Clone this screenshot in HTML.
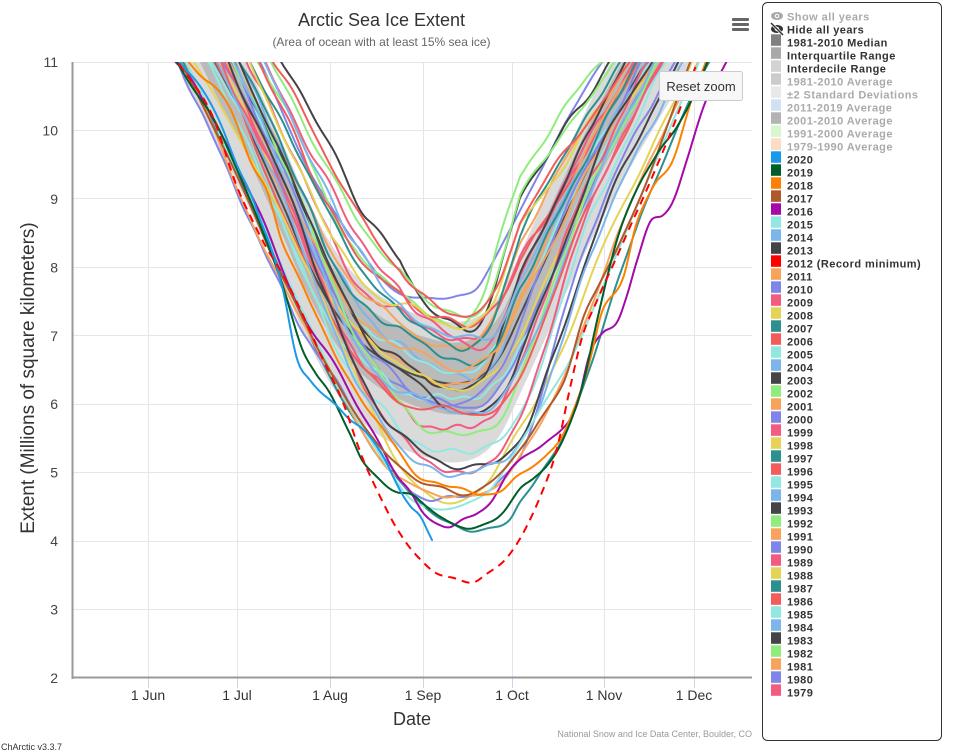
<!DOCTYPE html>
<html><head><meta charset="utf-8"><title>Arctic Sea Ice Extent</title>
<style>
html,body{margin:0;padding:0;background:#fff;}
svg{display:block;font-family:"Liberation Sans",Arial,sans-serif;}
.lg{font-size:11px;font-weight:bold;letter-spacing:0.45px;fill:#333;}
.lg.off{fill:#aaa;}
</style></head><body>
<svg id="c" width="953" height="753" viewBox="0 0 953 753" xmlns="http://www.w3.org/2000/svg">
<defs><clipPath id="pc"><rect x="73" y="62" width="679" height="616"/></clipPath></defs>
<rect width="953" height="753" fill="#fff"/>
<!-- grid -->
<g stroke="#e6e6e6" stroke-width="1" fill="none">
<line x1="73" x2="752" y1="62.5" y2="62.5"/>
<line x1="73" x2="752" y1="130.5" y2="130.5"/>
<line x1="73" x2="752" y1="198.5" y2="198.5"/>
<line x1="73" x2="752" y1="267.5" y2="267.5"/>
<line x1="73" x2="752" y1="335.5" y2="335.5"/>
<line x1="73" x2="752" y1="404.5" y2="404.5"/>
<line x1="73" x2="752" y1="472.5" y2="472.5"/>
<line x1="73" x2="752" y1="541.5" y2="541.5"/>
<line x1="73" x2="752" y1="609.5" y2="609.5"/>
<line x1="148.5" x2="148.5" y1="62" y2="678"/>
<line x1="237.5" x2="237.5" y1="62" y2="678"/>
<line x1="330.5" x2="330.5" y1="62" y2="678"/>
<line x1="423.5" x2="423.5" y1="62" y2="678"/>
<line x1="512.5" x2="512.5" y1="62" y2="678"/>
<line x1="604.5" x2="604.5" y1="62" y2="678"/>
<line x1="694.5" x2="694.5" y1="62" y2="678"/>
</g>
<g stroke="#ccd6eb" stroke-width="1">
<line x1="148.5" x2="148.5" y1="678" y2="688"/>
<line x1="237.5" x2="237.5" y1="678" y2="688"/>
<line x1="330.5" x2="330.5" y1="678" y2="688"/>
<line x1="423.5" x2="423.5" y1="678" y2="688"/>
<line x1="512.5" x2="512.5" y1="678" y2="688"/>
<line x1="604.5" x2="604.5" y1="678" y2="688"/>
<line x1="694.5" x2="694.5" y1="678" y2="688"/>
</g>
<g id="plot" clip-path="url(#pc)"></g>
<!-- axes -->
<line x1="72.5" x2="72.5" y1="62" y2="679" stroke="#999" stroke-width="2"/>
<line x1="72" x2="752" y1="677.5" y2="677.5" stroke="#999" stroke-width="2"/>
<!-- y labels -->
<g font-size="14" fill="#444" text-anchor="end">
<text x="58" y="67">11</text>
<text x="58" y="135.5">10</text>
<text x="58" y="204">9</text>
<text x="58" y="272.5">8</text>
<text x="58" y="341">7</text>
<text x="58" y="409">6</text>
<text x="58" y="477.5">5</text>
<text x="58" y="546">4</text>
<text x="58" y="614.5">3</text>
<text x="58" y="683">2</text>
</g>
<g font-size="14" fill="#333" text-anchor="middle">
<text x="148" y="700">1 Jun</text>
<text x="237" y="700">1 Jul</text>
<text x="330" y="700">1 Aug</text>
<text x="423" y="700">1 Sep</text>
<text x="512" y="700">1 Oct</text>
<text x="604" y="700">1 Nov</text>
<text x="694" y="700">1 Dec</text>
</g>
<text x="412" y="725" font-size="18" fill="#333" text-anchor="middle">Date</text>
<text transform="translate(34,378) rotate(-90)" x="0" y="0" font-size="19" fill="#333" text-anchor="middle">Extent (Millions of square kilometers)</text>
<text x="381.5" y="26" font-size="18" fill="#333" text-anchor="middle">Arctic Sea Ice Extent</text>
<text x="381.5" y="46" font-size="12" fill="#666" text-anchor="middle">(Area of ocean with at least 15% sea ice)</text>
<text x="752" y="737" font-size="9" fill="#999" text-anchor="end">National Snow and Ice Data Center, Boulder, CO</text>
<text x="1" y="750" font-size="9" fill="#333">ChArctic v3.3.7</text>
<!-- hamburger -->
<g fill="#666">
<rect x="732" y="18" width="17" height="3" rx="1"/>
<rect x="732" y="23" width="17" height="3" rx="1"/>
<rect x="732" y="28" width="17" height="3" rx="1"/>
</g>
<!-- reset zoom -->
<rect x="659.5" y="71.5" width="83" height="29" rx="2" fill="#f7f7f7" stroke="#cccccc" stroke-width="1"/>
<text x="701" y="91" font-size="13" fill="#333" text-anchor="middle">Reset zoom</text>
<!-- legend -->
<rect x="762.5" y="2.5" width="179" height="738" rx="5" fill="#fff" stroke="#333" stroke-width="1"/>
<g>
<ellipse cx="777" cy="16" rx="6" ry="4" fill="#aaa"/><circle cx="777" cy="16" r="2.2" fill="#fff"/><circle cx="777" cy="16" r="1.2" fill="#aaa"/>
<text class="lg off" x="787" y="20.5">Show all years</text>
<ellipse cx="777" cy="29" rx="6" ry="4" fill="#333"/><circle cx="777" cy="29" r="2.2" fill="#fff"/><circle cx="777" cy="29" r="1.2" fill="#333"/>
<line x1="771" y1="23" x2="783" y2="35" stroke="#fff" stroke-width="3"/><line x1="771" y1="23" x2="783" y2="35" stroke="#333" stroke-width="1.5"/>
<text class="lg" x="787" y="33.5">Hide all years</text>
</g>
<g id="legend"></g>
</svg>
<script>
(function(){
var NS="http://www.w3.org/2000/svg";
var plot=document.getElementById('plot');
var leg=document.getElementById('legend');
function Y(v){return 678-(v-2)*68.444;}
function mk(P){
  var n=P.length,m=[];
  for(var i=0;i<n;i++){
    if(i==0)m.push((P[1][1]-P[0][1])/(P[1][0]-P[0][0]));
    else if(i==n-1)m.push((P[n-1][1]-P[n-2][1])/(P[n-1][0]-P[n-2][0]));
    else m.push((P[i+1][1]-P[i-1][1])/(P[i+1][0]-P[i-1][0]));
  }
  return function(x){
    if(x<=P[0][0])return P[0][1]+m[0]*(x-P[0][0]);
    if(x>=P[n-1][0])return P[n-1][1]+m[n-1]*(x-P[n-1][0]);
    var i=0;while(P[i+1][0]<x)i++;
    var x0=P[i][0],x1=P[i+1][0],h=x1-x0,t=(x-x0)/h,y0=P[i][1],y1=P[i+1][1],t2=t*t,t3=t2*t;
    return (2*t3-3*t2+1)*y0+(t3-2*t2+t)*h*m[i]+(-2*t3+3*t2)*y1+(t3-t2)*h*m[i+1];
  };
}
function rng(s){return function(){s|=0;s=s+0x6D2B79F5|0;var t=Math.imul(s^s>>>15,1|s);t=t+Math.imul(t^t>>>7,61|t)^t;return((t^t>>>14)>>>0)/4294967296;};}
function wig(seed,amp){
  var r=rng(seed*7919+13),a=[],f=[],p=[],base=[1,0.6,0.4,0.3],fr=[0.025,0.06,0.11,0.2];
  for(var k=0;k<4;k++){a.push(amp*(0.5+r())*base[k]);f.push(fr[k]*(0.8+0.4*r()));p.push(r()*6.283);}
  return function(x){var s=0;for(var k=0;k<4;k++)s+=a[k]*Math.sin(x*f[k]+p[k]);return s;};
}
var TP=[[100,14.4],[150,12.9],[180,12.05],[215,11.0],[240,10.3],[285,8.84],[305,8.15],[335,7.35],[365,6.85],[400,6.52],[430,6.36],[455,6.3],[480,6.4],[500,6.7],[520,7.3],[545,8.1],[570,8.9],[600,9.8],[630,10.6],[650,11.1],[700,12.3],[780,14]];
var T=mk(TP);
function add(tag,attrs){var e=document.createElementNS(NS,tag);for(var k in attrs)e.setAttribute(k,attrs[k]);plot.appendChild(e);return e;}
function pathOf(fn,x0,x1){var d='',first=true;for(var x=x0;x<=x1;x+=2){var v=fn(x);var y=Y(v);if(y<-200)y=-200;d+=(first?'M':'L')+x+','+y.toFixed(1);first=false;}return d;}
function band(up,lo,fill){
  var d='';for(var x=90;x<=760;x+=2){d+=(x==90?'M':'L')+x+','+Math.max(-200,Y(T(x)+up)).toFixed(1);}
  for(var x2=760;x2>=90;x2-=2){d+='L'+x2+','+Math.max(-200,Y(T(x2)+lo)).toFixed(1);}
  d+='Z';add('path',{d:d,fill:fill,stroke:'none'});
}
band(0.9,-1.15,'#dadada');
band(0.6,-0.45,'#bababa');

function genFn(dv,dxL,dxR,seed){
  var w0=wig(seed,0.07);
  return function(x){
    var dx;if(x<400)dx=dxL;else if(x>520)dx=dxR;else dx=dxL+(dxR-dxL)*(x-400)/120;
    var w=1/(1+Math.pow((x-455)/100,4));
    return T(x-dx)+dv*w+w0(x);
  };
}
function handFn(P,seed,amp){var f=mk(P),w0=wig(seed,amp);return function(x){return f(x)+w0(x);};}

var lines=[];
var G=[
[1979,'#f15c80',0.6,30,-10],[1981,'#f7a35c',0.6,20,-15],[1982,'#90ed7d',0.9,40,-38],[1983,'#434348',0.9,62,-28],
[1984,'#7cb5ec',0.1,25,-5],[1985,'#91e8e1',0.2,15,0],[1986,'#f45b5b',0.8,40,-5],[1987,'#2b908f',0.6,35,-20],
[1988,'#e4d354',0.8,30,-15],[1989,'#f15c80',0.6,50,-5],[1990,'#8085e9',-0.3,10,10],[1991,'#f7a35c',0.0,5,-10],
[1992,'#90ed7d',0.9,55,-30],[1993,'#434348',-0.1,20,-20],[1994,'#7cb5ec',0.6,45,0],[1995,'#91e8e1',-0.3,-5,5],
[1996,'#f45b5b',1.0,55,-15],[1997,'#2b908f',0.3,25,-5],[1998,'#e4d354',0.0,5,10],[1999,'#f15c80',-0.6,5,5],
[2000,'#8085e9',-0.3,15,-5],[2001,'#f7a35c',0.3,10,5],[2002,'#90ed7d',-0.7,20,10],[2003,'#434348',-0.4,25,5],
[2004,'#7cb5ec',-0.5,15,10],[2005,'#91e8e1',-1.0,-5,20],[2006,'#f45b5b',-0.5,0,15],[2009,'#f15c80',-1.2,10,15],
[2010,'#8085e9',-1.6,-35,25],[2013,'#434348',-1.25,15,30],[2014,'#7cb5ec',-1.3,5,35]
];
G.forEach(function(g){lines.push({yr:g[0],c:g[1],fn:genFn(g[2],g[3],g[4],g[0]),x1:760});});

var H={
1980:['#8085e9',[[200,12.5],[260,11.0],[300,9.7],[350,8.4],[380,7.85],[400,7.62],[430,7.58],[455,7.58],[475,7.65],[490,8.0],[510,8.6],[540,9.4],[570,10.2],[600,10.9],[615,11.2],[650,12]]],
2007:['#2b908f',[[160,11.5],[185,11],[240,9.3],[300,7.3],[340,6.1],[380,5.2],[420,4.6],[450,4.3],[470,4.19],[497,4.2],[510,4.3],[520,4.55],[535,4.85],[560,5.4],[590,6.5],[620,7.9],[650,9.1],[690,10.5],[712,11.1],[730,11.6]]],
2008:['#e4d354',[[170,11.5],[195,11],[260,9.3],[320,7.6],[370,6.0],[400,5.1],[430,4.7],[450,4.6],[470,4.65],[490,4.9],[520,5.6],[560,6.7],[600,8.2],[640,9.4],[690,11],[705,11.5]]],
2011:['#f7a35c',[[160,11.5],[185,11],[240,9.1],[300,7.3],[350,5.9],[390,5.0],[420,4.72],[440,4.6],[460,4.62],[480,4.72],[500,4.9],[530,5.5],[560,6.3],[590,7.4],[620,8.6],[660,9.8],[700,11],[715,11.4]]],
2015:['#91e8e1',[[160,11.5],[185,11],[240,9.3],[300,7.5],[350,6.0],[390,5.0],[410,4.6],[430,4.45],[453,4.48],[477,4.56],[493,4.75],[520,5.4],[550,6.2],[580,7.0],[610,8.0],[640,9.0],[680,10.4],[700,11],[715,11.5]]],
2016:['#a40aa8',[[150,11.5],[170,11.1],[193,10.7],[230,9.7],[263,8.7],[300,7.4],[330,6.7],[360,5.9],[380,5.4],[397,4.94],[410,4.7],[423,4.41],[440,4.2],[450,4.16],[463,4.3],[477,4.38],[490,4.56],[507,5.0],[523,5.23],[543,5.43],[563,5.67],[577,6.02],[590,6.75],[603,7.08],[617,7.23],[627,7.6],[637,8.1],[650,8.65],[663,8.72],[673,8.94],[687,9.57],[707,10.45],[727,11],[740,11.4]]],
2017:['#b0592b',[[160,11.5],[180,11],[230,9.6],[290,7.6],[340,6.2],[380,5.4],[413,4.94],[440,4.8],[463,4.7],[487,4.85],[503,5.04],[520,5.33],[537,5.67],[563,6.25],[583,7.23],[597,7.67],[620,8.4],[650,9.4],[690,11],[700,11.3]]],
2018:['#ff8000',[[160,11.6],[175,11.2],[200,10.8],[227,10.4],[250,9.57],[267,9.09],[283,8.3],[307,7.6],[340,6.6],[370,5.9],[395,5.4],[413,5.04],[440,4.85],[463,4.75],[487,4.65],[500,4.7],[517,4.94],[530,5.08],[547,5.23],[563,5.52],[577,6.02],[590,6.65],[603,7.38],[623,7.86],[637,8.7],[653,9.17],[673,9.57],[693,10.55],[705,11],[720,11.5]]],
2019:['#005e2a',[[150,11.6],[178,11],[210,10.3],[247,9.1],[277,8.0],[300,6.9],[315,6.5],[330,6.16],[350,5.52],[363,5.08],[380,4.85],[397,4.67],[413,4.63],[427,4.5],[440,4.38],[457,4.28],[473,4.2],[490,4.28],[503,4.45],[520,4.79],[533,4.94],[550,5.18],[563,5.52],[583,6.35],[597,7.2],[617,8.36],[637,9.09],[657,9.61],[677,10.0],[707,11],[720,11.5]]]
};
for(var k in H){lines.push({yr:+k,c:H[k][0],fn:handFn(H[k][1],+k,0.035),x1:760});}
lines.push({yr:2020,c:'#1a9ae6',fn:handFn([[160,11.5],[180,11],[210,10.4],[237,9.5],[250,9.09],[260,8.69],[270,8.3],[283,7.62],[297,6.65],[310,6.35],[330,6.1],[347,5.87],[363,5.67],[380,5.33],[397,4.79],[410,4.5],[420,4.35],[427,4.16],[432,4.02]],2020,0.03),x1:432});
lines.sort(function(a,b){return a.yr-b.yr;});

// median line
add('path',{d:pathOf(function(x){return T(x);},90,760),fill:'none',stroke:'#4d4d4d','stroke-width':2,'stroke-linejoin':'round'});

lines.forEach(function(L){
  add('path',{d:pathOf(L.fn,90,L.x1),fill:'none',stroke:L.c,'stroke-width':2,'stroke-linejoin':'round','stroke-linecap':'round'});
});
// 2012 record minimum dashed
var f12=handFn([[150,11.8],[178,11],[210,10.3],[237,9.2],[263,8.4],[290,7.7],[320,6.75],[343,6.02],[363,5.19],[383,4.56],[397,4.16],[413,3.83],[433,3.55],[453,3.46],[473,3.40],[487,3.53],[507,3.77],[523,4.12],[543,4.75],[557,5.37],[570,6.25],[583,7.04],[597,7.52],[623,8.36],[660,9.57],[685,10.5],[700,11.1],[720,11.8]],2012,0.01);
add('path',{d:pathOf(f12,90,760),fill:'none',stroke:'#ff0000','stroke-width':2,'stroke-dasharray':'8,6'});

// legend items
var items=[
['1981-2010 Median','#808080',0],['Interquartile Range','#a9a9a9',0],['Interdecile Range','#d3d3d3',0],
['1981-2010 Average','#cccccc',1],['\u00b12 Standard Deviations','#e8e8e8',1],['2011-2019 Average','#cfe2f5',1],
['2001-2010 Average','#b3b3b3',1],['1991-2000 Average','#d6f7d0',1],['1979-1990 Average','#fcdcc4',1],
['2020','#1a9ae6',0],['2019','#005e2a',0],['2018','#ff8000',0],['2017','#b0592b',0],['2016','#a40aa8',0],
['2015','#91e8e1',0],['2014','#7cb5ec',0],['2013','#434348',0],['2012 (Record minimum)','#ff0000',0]
];
var cyc=['#f7a35c','#8085e9','#f15c80','#e4d354','#2b908f','#f45b5b','#91e8e1','#7cb5ec','#434348','#90ed7d'];
for(var y=2011,i=0;y>=1979;y--,i++){items.push([String(y),cyc[i%10],0]);}
items.forEach(function(it,i){
  var r=document.createElementNS(NS,'rect');
  r.setAttribute('x',771);r.setAttribute('y',34.3+13*i);r.setAttribute('width',10);r.setAttribute('height',11.5);r.setAttribute('fill',it[1]);
  leg.appendChild(r);
  var t=document.createElementNS(NS,'text');
  t.setAttribute('x',787);t.setAttribute('y',46.5+13*i);t.setAttribute('class',it[2]?'lg off':'lg');
  t.textContent=it[0];leg.appendChild(t);
});
})();
</script>
</body></html>
